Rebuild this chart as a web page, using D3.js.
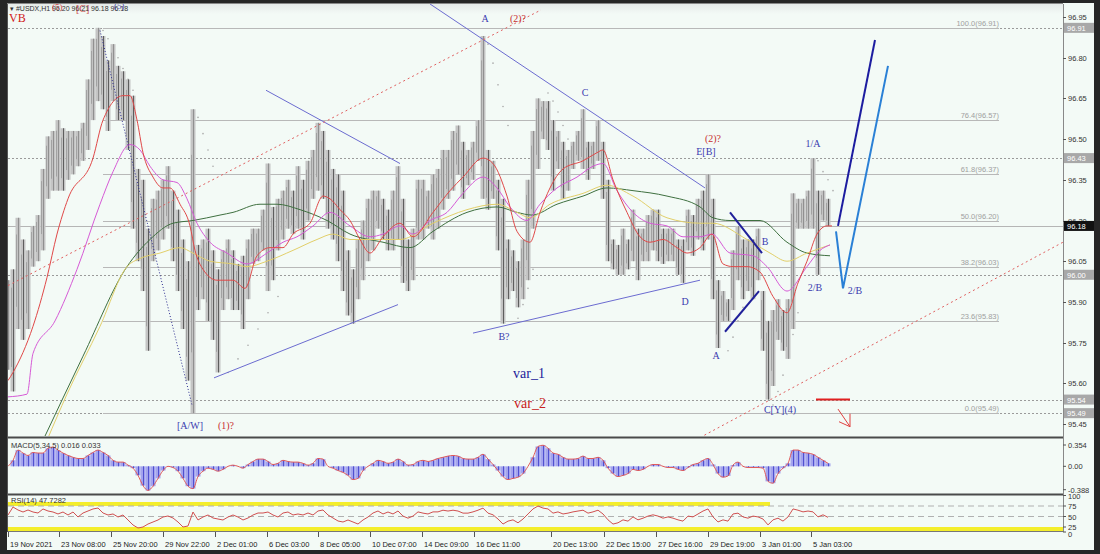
<!DOCTYPE html>
<html><head><meta charset="utf-8">
<script src="https://cdn.jsdelivr.net/npm/d3@7"></script>
<style>html,body{margin:0;padding:0;background:#222;}svg{display:block}</style>
</head><body><svg id="c" width="1100" height="554"></svg>
<script>
// ---------- DATA ----------
const priceHigh = [95.98,96.02,96.21,96.13,96.09,96.18,96.22,96.39,96.51,96.53,96.57,96.54,96.53,96.53,96.53,96.56,96.72,96.87,96.91,96.88,
96.79,96.85,96.77,96.75,96.72,96.66,96.39,96.35,96.17,96.28,96.31,96.35,96.40,96.31,96.24,96.13,96.05,96.61,96.11,96.13,
96.17,96.09,96.02,96.09,96.13,96.09,96.04,96.07,96.13,96.17,96.17,96.24,96.41,96.25,96.28,96.31,96.35,96.31,96.40,96.35,
96.42,96.46,96.56,96.53,96.46,96.39,96.37,96.31,96.09,96.02,96.13,96.20,96.28,96.31,96.31,96.28,96.24,96.31,96.40,96.28,
96.13,96.17,96.35,96.35,96.31,96.37,96.39,96.46,96.46,96.53,96.55,96.49,96.46,96.49,96.57,96.88,96.46,96.42,96.35,96.28,
96.13,96.09,96.05,96.13,96.35,96.53,96.65,96.64,96.64,96.57,96.53,96.49,96.46,96.49,96.53,96.61,96.49,96.49,96.57,96.49,
96.35,96.13,96.11,96.17,96.13,96.24,96.17,96.17,96.22,96.24,96.24,96.17,96.17,96.17,96.13,96.13,96.24,96.22,96.28,96.31,
96.37,96.28,95.98,95.94,95.91,96.09,96.18,96.13,96.13,96.13,96.17,95.94,95.83,95.87,95.91,95.87,95.91,96.30,96.28,96.28,
96.31,96.43,96.31,96.31,96.28];
const priceLow = [95.65,95.57,95.80,95.76,95.80,96.03,96.05,96.09,96.28,96.31,96.31,96.31,96.35,96.37,96.40,96.42,96.46,96.57,96.64,96.61,
96.53,96.64,96.57,96.57,96.46,96.17,96.05,95.94,95.72,96.05,96.09,96.13,96.17,96.05,95.94,95.80,95.61,95.49,95.87,95.91,
95.83,95.76,95.64,95.87,95.91,95.87,95.87,95.80,95.91,96.04,96.05,96.09,95.94,95.98,96.09,96.13,96.17,96.15,96.17,96.13,
96.20,96.28,96.31,96.28,96.17,96.13,96.05,95.94,95.85,95.82,95.91,95.98,96.05,96.09,96.17,96.13,96.09,96.09,96.13,95.97,
95.94,95.98,96.13,96.13,96.17,96.13,96.17,96.24,96.28,96.31,96.37,96.28,96.33,96.35,96.42,96.28,96.24,96.28,96.09,95.82,
95.91,95.94,95.88,95.91,95.98,96.17,96.39,96.50,96.46,96.31,96.39,96.28,96.31,96.39,96.42,96.39,96.35,96.39,96.42,96.28,
96.05,96.02,96.00,96.00,96.02,96.05,95.98,96.05,96.05,96.09,96.05,96.04,96.05,96.05,96.00,95.97,96.09,96.07,96.13,96.09,
96.13,95.91,95.73,95.83,95.83,95.87,95.98,95.91,95.94,95.91,95.98,95.72,95.54,95.59,95.76,95.72,95.69,95.80,96.17,96.17,
96.17,96.17,96.00,96.20,96.18];

// moving averages: [bar index, value]
const maRed = [[0,95.61],[1,95.64],[5,95.81],[7.8,95.99],[9.8,96.15],[12,96.28],[17,96.43],[19,96.57],[23,96.66],[24.4,96.66],[25.8,96.57],[27,96.45],[29,96.36],[31,96.32],[32.4,96.32],[34.4,96.26],[36.4,96.18],[37.4,96.09],[39,96.02],[41.8,95.98],[45,95.98],[47.4,95.95],[49.8,96.07],[52.4,96.10],[55,96.10],[57,96.15],[60.4,96.19],[63,96.29],[64.4,96.28],[66.4,96.24],[68.4,96.20],[70.4,96.13],[72.4,96.08],[75,96.14],[78.4,96.19],[81,96.14],[85,96.23],[88.4,96.31],[91,96.36],[95,96.43],[97,96.41],[99.8,96.29],[101.8,96.16],[104.4,96.12],[106.4,96.23],[108.4,96.32],[111,96.39],[115,96.42],[117.8,96.45],[119,96.46],[121,96.35],[123.8,96.23],[126.4,96.14],[128.4,96.12],[131,96.13],[133.8,96.10],[135.8,96.08],[138.4,96.10],[140.8,96.15],[143,96.04],[145,96.03],[147.8,96.03],[150.4,96.01],[153,95.92],[155.8,95.86],[158,95.97],[159.8,96.05],[161.8,96.15],[163.8,96.18],[164.8,96.18]];
const maViolet = [[0,95.55],[3.8,95.56],[5,95.71],[9.4,95.83],[13.8,96.02],[18.4,96.26],[21,96.38],[24.4,96.48],[26.4,96.46],[28.4,96.40],[31,96.35],[33.8,96.34],[35.8,96.28],[37.8,96.19],[40.4,96.12],[43.8,96.08],[47.8,96.04],[51.8,96.08],[55,96.12],[57.8,96.14],[61,96.18],[64.4,96.23],[68.4,96.18],[72.4,96.14],[75,96.15],[78.4,96.18],[81,96.15],[84.4,96.20],[87.8,96.23],[91,96.30],[95,96.36],[97.8,96.32],[100.4,96.25],[103.8,96.20],[106.4,96.26],[109.8,96.32],[113.8,96.36],[117,96.40],[119,96.41],[121.8,96.31],[125,96.23],[128.4,96.19],[131.8,96.18],[135,96.14],[138.4,96.14],[140.8,96.15],[144.4,96.08],[149,96.07],[151.8,96.03],[155.8,95.94],[159.8,96.03],[162.4,96.09],[164.4,96.11]];
const maYellow = [[7.8,95.39],[11.8,95.56],[18.4,95.81],[23.8,96.03],[26.4,96.06],[30.4,96.08],[34.4,96.10],[37,96.08],[40.4,96.05],[45,96.04],[47.8,96.03],[51.8,96.05],[57,96.09],[61.8,96.13],[65,96.15],[68.4,96.13],[72.4,96.13],[78.4,96.13],[85,96.19],[91.8,96.24],[97.8,96.26],[101.8,96.23],[104.4,96.21],[108.4,96.26],[115,96.30],[119.8,96.33],[125,96.29],[131.8,96.21],[138.4,96.19],[141,96.19],[147.8,96.13],[152.4,96.08],[155.8,96.05],[159.8,96.08],[164.4,96.11]];
const maGreen = [[7,95.39],[15,95.70],[23.8,96.03],[28.4,96.13],[33,96.19],[37,96.20],[42.4,96.22],[45,96.23],[50.4,96.26],[53.8,96.26],[58.4,96.24],[63.8,96.20],[68.4,96.15],[75,96.12],[80.4,96.10],[85,96.16],[91.8,96.23],[97.8,96.25],[101.8,96.23],[104.8,96.22],[109.8,96.26],[115,96.29],[119.8,96.32],[125,96.31],[131.8,96.29],[138.4,96.25],[141,96.21],[144.4,96.20],[150.4,96.20],[155.8,96.12],[159.8,96.08],[164.4,96.07]];

// parabolic SAR dot runs: [bar index, value]
const sarRuns = [
 [[19,96.90],[20,96.87],[21,96.84],[22,96.80],[23,96.76],[24,96.72],[25,96.68]],
 [[38,96.58],[39,96.52],[40,96.46],[41,96.40]],
 [[44,95.64],[46,95.69],[48,95.74],[50,95.80],[52,95.86],[54,95.92]],
 [[96,96.85],[97,96.78],[98,96.70],[99,96.62],[100,96.55]],
 [[102,95.84],[103,95.89],[104,95.95],[105,96.02]],
 [[108,96.67],[109,96.64],[110,96.60],[111,96.55],[112,96.50]],
 [[144,95.72],[145,95.77],[146,95.83],[147,95.88]],
 [[153,95.52],[154,95.57],[155,95.63],[156,95.70],[157,95.78],[158,95.86]],
 [[162,96.42],[163,96.38],[164,96.35],[165,96.31]]
];

const macdValues = [0,0.10,0.27,0.22,0.18,0.23,0.22,0.22,0.30,0.32,0.27,0.22,0.18,0.15,0.13,0.13,0.18,0.23,0.27,0.23,
0.18,0.10,0.07,0.07,0.02,-0.03,-0.15,-0.32,-0.40,-0.33,-0.20,-0.07,0,-0.02,-0.08,-0.20,-0.33,-0.37,-0.17,-0.08,
-0.03,-0.05,-0.08,-0.05,0,0.02,0,-0.03,0.03,0.08,0.12,0.12,0.08,0.03,0.05,0.10,0.08,0.07,0.07,0.05,
0.02,0.05,0.13,0.12,0,-0.03,-0.07,-0.10,-0.15,-0.22,-0.20,-0.07,0,0.05,0.10,0.08,0.05,0.07,0.12,0.08,
0.02,0.03,0.08,0.10,0.08,0.10,0.13,0.15,0.17,0.18,0.17,0.13,0.12,0.12,0.15,0.20,0.12,0.03,-0.07,-0.17,
-0.22,-0.20,-0.18,-0.12,0,0.15,0.33,0.35,0.30,0.22,0.20,0.15,0.12,0.12,0.13,0.17,0.13,0.13,0.15,0.10,
-0.03,-0.12,-0.17,-0.15,-0.12,-0.05,-0.07,-0.05,0,0.03,0.03,0,-0.02,-0.02,-0.05,-0.07,-0.02,0.03,0.05,0.10,
0.13,0.03,-0.12,-0.18,-0.16,0.02,0.07,0,-0.02,-0.02,-0.02,-0.03,-0.25,-0.28,-0.12,-0.03,0.05,0.27,0.27,0.23,
0.22,0.20,0.15,0.10,0.05];

const rsiValues = [53.6,72.6,65.5,60.7,65.5,60.7,58.3,67.9,63.1,60.7,56,60.7,53.6,60.7,48.8,58.3,63.1,67.9,70.2,58.3,
53.6,56,48.8,53.6,41.7,29.8,22.6,25,32.1,36.9,41.7,48.8,51.2,46.4,36.9,25,27.4,60.7,41.7,48.8,
53.6,46.4,44,41.7,48.8,53.6,48.8,41.7,46.4,53.6,58.3,58.3,60.7,53.6,48.8,58.3,60.7,53.6,56,53.6,
58.3,53.6,63.1,65.5,53.6,46.4,39.3,36.9,41.7,36.9,32.1,41.7,48.8,58.3,63.1,56,60.7,56,63.1,51,
46,51,61,58,56,61,61,65,63,65,63,58,58,61,65,70,58,54,44,32,
39,42,35,44,56,68,75,70,68,58,61,56,58,61,63,65,58,61,65,56,
42,32,35,42,39,49,42,46,51,54,51,46,49,46,42,39,51,49,56,63,
68,49,37,42,39,56,58,49,46,51,49,44,30,42,46,39,49,68,65,61,
63,61,49,54,48];

const yTickValues = [96.95,96.80,96.65,96.50,96.35,96.20,96.05,95.90,95.75,95.60,95.45];
const levelLines = [96.91,96.43,96.00,95.54,95.49];
const lastPrice = 96.18;
const fibLevels = [[100.0,96.91],[76.4,96.57],[61.8,96.37],[50.0,96.20],[38.2,96.03],[23.6,95.83],[0.0,95.49]];
const xTickLabels = ["19 Nov 2021","23 Nov 08:00","25 Nov 20:00","29 Nov 22:00","2 Dec 01:00","6 Dec 03:00","8 Dec 05:00","10 Dec 07:00","14 Dec 09:00","16 Dec 11:00","20 Dec 13:00","22 Dec 15:00","27 Dec 16:00","29 Dec 19:00","3 Jan 01:00","5 Jan 03:00"];
const xTickIdx = [0,10.2,20.6,31,41.4,51.8,62,72.4,82.8,93.2,108.6,119.2,129.6,140,150.4,160.6];
const macdTicks = [0.354,0,-0.388];
const macdTickLabels = ["0.354","0.00","-0.388"];
const rsiTicks = [100,75,50,25,0];

// trend lines: [[idx,val],[idx,val]]
const trendThin = [[[51.6,96.68],[78.4,96.41]],[[41.2,95.62],[78,95.89]],[[84.4,96.998],[139.4,96.32]],[[93,95.785],[138.4,95.98]]];
const trendBold = [[[144.4,96.23],[150.8,96.08]],[[143.4,95.79],[150.2,95.94]]];
const navyDotted = [[18.4,96.90],[36.8,95.52]];
const redDotted = [[[0,95.96],[106.6,96.976]],[[138.4,95.40],[211,96.12]]];
const projNavy = [[166,96.18],[173.4,96.865]];
const projBlue = [[165.6,96.16],[167,95.95],[176,96.77]];
const redStop = [[161.6,95.54],[168.4,95.54]];
const redArrow = [[166,95.505],[168.4,95.44]];

const labelsBlue = [["A",95.4,96.93],["C",115.4,96.66],["E[B]",139.6,96.44],["1/A",161,96.47],["B",151.4,96.11],["D",135.4,95.89],["2/B",161.4,95.94],["2/B",169.4,95.93],["A",141.6,95.69],["B?",99.2,95.76],["C[Y](4)",154.4,95.49],["[A/W]",36.4,95.43]];
const labelsRed = [["(2)?",102,96.93],["(2)?",141,96.49],["(1)?",43.6,95.43]];

// ---------- DRAW ----------
const svg = d3.select('#c');
const L = 8, R = 1063;
const x = d3.scaleLinear().domain([0,211]).range([L,R]);
const y = d3.scaleLinear().domain([95.45,96.95]).range([424,17]);
const yM = d3.scaleLinear().domain([-0.388,0.354]).range([489.7,445]);
const yR = d3.scaleLinear().domain([0,100]).range([537.5,495.5]);
const bg = '#f3faf6';
const axisFont = 'Liberation Sans, Arial, sans-serif';
const serif = 'Liberation Serif, Times New Roman, serif';

svg.append('rect').attr('width',1100).attr('height',554).attr('fill','#262626');
svg.append('rect').attr('x',7).attr('y',3).attr('width',1087).attr('height',547).attr('fill',bg);
const defs = svg.append('defs');
const gr = defs.append('linearGradient').attr('id','hg').attr('x1',0).attr('x2',0).attr('y1',0).attr('y2',1);
gr.append('stop').attr('offset','0').attr('stop-color','#e6ebe9');
gr.append('stop').attr('offset','1').attr('stop-color',bg);
svg.append('rect').attr('x',8).attr('y',4).attr('width',R-L).attr('height',10).attr('fill','url(#hg)');

defs.append('clipPath').attr('id','cm').append('rect').attr('x',L).attr('y',4).attr('width',R-L).attr('height',432);
defs.append('clipPath').attr('id','cmacd').append('rect').attr('x',L).attr('y',439).attr('width',R-L).attr('height',54);
defs.append('clipPath').attr('id','crsi').append('rect').attr('x',L).attr('y',497).attr('width',R-L).attr('height',34);

const frame = svg.append('g');
frame.append('line').attr('x1',7).attr('x2',R).attr('y1',437.5).attr('y2',437.5).attr('stroke','#4a4a4a').attr('stroke-width',2);
frame.append('line').attr('x1',7).attr('x2',R).attr('y1',494.5).attr('y2',494.5).attr('stroke','#4a4a4a').attr('stroke-width',2);
frame.append('line').attr('x1',7).attr('x2',R).attr('y1',531.5).attr('y2',531.5).attr('stroke','#777').attr('stroke-width',1);
frame.append('line').attr('x1',R+0.5).attr('x2',R+0.5).attr('y1',4).attr('y2',532).attr('stroke','#888');
frame.append('line').attr('x1',7.5).attr('x2',7.5).attr('y1',3).attr('y2',532).attr('stroke','#555');
frame.append('line').attr('x1',7).attr('x2',R).attr('y1',3.5).attr('y2',3.5).attr('stroke','#888');

const gm = svg.append('g').attr('clip-path','url(#cm)');

gm.selectAll('line.lvl').data(levelLines).join('line')
  .attr('x1',L).attr('x2',R).attr('y1',d=>Math.round(y(d))+0.5).attr('y2',d=>Math.round(y(d))+0.5)
  .attr('stroke','#9a9a9a').attr('stroke-dasharray','2,2').attr('stroke-width',1);
const fibStart = 19, fibEnd = 198.2;
gm.selectAll('line.fib').data(fibLevels).join('line')
  .attr('x1',x(fibStart)).attr('x2',x(fibEnd)).attr('y1',d=>Math.round(y(d[1]))+0.5).attr('y2',d=>Math.round(y(d[1]))+0.5)
  .attr('stroke','#b8b8b8').attr('stroke-width',1);
gm.selectAll('text.fib').data(fibLevels).join('text')
  .attr('x',x(fibEnd)).attr('y',d=>Math.round(y(d[1]))-2).attr('text-anchor','end')
  .attr('font-family',axisFont).attr('font-size',7.5).attr('fill','#a0a0a0')
  .text(d=>d[0].toFixed(1)+'('+d[1].toFixed(2)+')');
gm.append('line').attr('x1',L).attr('x2',R).attr('y1',Math.round(y(lastPrice))+0.5).attr('y2',Math.round(y(lastPrice))+0.5)
  .attr('stroke','#b5b5b5').attr('stroke-width',1);

// SAR dots
sarRuns.forEach(run=>{
  gm.selectAll(null).data(run).join('circle').attr('cx',d=>x(d[0])).attr('cy',d=>y(d[1])).attr('r',0.8).attr('fill','#a8a8a8');
});

// price bars
const mids = priceHigh.map((h,i)=>(h+priceLow[i])/2);
gm.selectAll('rect.bar').data(priceHigh).join('rect')
  .attr('x',(d,i)=>x(i)-2.5).attr('width',5)
  .attr('y',d=>y(d)).attr('height',(d,i)=>Math.max(1,y(priceLow[i])-y(d)))
  .attr('fill','#c4c4c4');
gm.selectAll('line.bar2').data(priceHigh).join('line')
  .attr('x1',(d,i)=>x(i)-1.5).attr('x2',(d,i)=>x(i)-1.5)
  .attr('y1',(d,i)=>y(d)+ (y(priceLow[i])-y(d))*0.15).attr('y2',(d,i)=>y(priceLow[i]) - (y(priceLow[i])-y(d))*0.2)
  .attr('stroke','#a2a2a2').attr('stroke-width',1);
gm.selectAll('line.bar').data(priceHigh).join('line')
  .attr('x1',(d,i)=>x(i)+0.5).attr('x2',(d,i)=>x(i)+0.5)
  .attr('y1',d=>y(d)).attr('y2',(d,i)=>y(priceLow[i]))
  .attr('stroke',(d,i)=> i>0 && mids[i]<mids[i-1] ? '#5e5e5e' : '#909090').attr('stroke-width',1);

const ln = d3.line().x(d=>x(d[0])).y(d=>y(d[1])).curve(d3.curveMonotoneX);
[[maGreen,'#3f7040'],[maYellow,'#e2cf6a'],[maViolet,'#d65ad6'],[maRed,'#e04848']].forEach(([data,c])=>{
  gm.append('path').attr('d',ln(data)).attr('fill','none').attr('stroke',c).attr('stroke-width',1);
});

const seg = d3.line().x(d=>x(d[0])).y(d=>y(d[1]));
trendThin.forEach(t=>gm.append('path').attr('d',seg(t)).attr('stroke','#6b6bd0').attr('stroke-width',1).attr('fill','none'));
trendBold.forEach(t=>gm.append('path').attr('d',seg(t)).attr('stroke','#20209a').attr('stroke-width',2).attr('fill','none'));
gm.append('path').attr('d',seg(navyDotted)).attr('stroke','#2b2b90').attr('stroke-dasharray','1,2').attr('fill','none');
redDotted.forEach(t=>gm.append('path').attr('d',seg(t)).attr('stroke','#e06060').attr('stroke-dasharray','2,3').attr('fill','none'));
gm.append('path').attr('d',seg(projNavy)).attr('stroke','#1c1ca0').attr('stroke-width',2).attr('fill','none');
gm.append('path').attr('d',seg(projBlue)).attr('stroke','#2a80d6').attr('stroke-width',2).attr('fill','none');
gm.append('path').attr('d',seg(redStop)).attr('stroke','#e02020').attr('stroke-width',2).attr('fill','none');
const a0 = [x(redArrow[0][0]),y(redArrow[0][1])], a1=[x(redArrow[1][0]),y(redArrow[1][1])];
gm.append('path').attr('d',`M${a0[0]},${a0[1]}L${a1[0]},${a1[1]}M${a1[0]},${a1[1]}L${a1[0]},${a1[1]-13}M${a1[0]},${a1[1]}L${a1[0]-11},${a1[1]-5}`)
  .attr('stroke','#e04040').attr('stroke-width',1).attr('fill','none');

gm.selectAll('text.lb').data(labelsBlue).join('text')
  .attr('x',d=>x(d[1])).attr('y',d=>y(d[2])).attr('text-anchor','middle')
  .attr('font-family',serif).attr('font-size',10).attr('fill','#3a3ab0').text(d=>d[0]);
gm.selectAll('text.lr').data(labelsRed).join('text')
  .attr('x',d=>x(d[1])).attr('y',d=>y(d[2])).attr('text-anchor','middle')
  .attr('font-family',serif).attr('font-size',10).attr('fill','#c83030').text(d=>d[0]);
gm.append('text').attr('x',x(104.2)).attr('y',y(95.62)).attr('text-anchor','middle').attr('font-family',serif).attr('font-size',14).attr('fill','#22229a').text('var_1');
gm.append('text').attr('x',x(104.4)).attr('y',y(95.51)).attr('text-anchor','middle').attr('font-family',serif).attr('font-size',14).attr('fill','#c82020').text('var_2');

// header
gm.append('text').attr('x',10).attr('y',11).attr('font-family',axisFont).attr('font-size',7).attr('fill','#333')
  .text('\u25BE #USDX,H1  96.20 96.21 96.18 96.18');
gm.append('text').attr('x',52).attr('y',10).attr('font-family',serif).attr('font-size',9).attr('fill','#c83030').attr('opacity',0.85).text('(5)');
gm.append('text').attr('x',76).attr('y',12).attr('font-family',serif).attr('font-size',10).attr('fill','#c83030').attr('opacity',0.85).text('[C]');
gm.append('text').attr('x',114).attr('y',9).attr('font-family',serif).attr('font-size',9).attr('fill','#2a2aa0').attr('opacity',0.85).text('(5)');
gm.append('text').attr('x',9).attr('y',22).attr('font-family',serif).attr('font-size',12).attr('fill','#d02020').text('VB');

// right axis main
const ax = svg.append('g');
ax.selectAll('line.t').data(yTickValues).join('line')
  .attr('x1',R).attr('x2',R+3).attr('y1',d=>Math.round(y(d))+0.5).attr('y2',d=>Math.round(y(d))+0.5).attr('stroke','#555');
ax.selectAll('text.t').data(yTickValues).join('text')
  .attr('x',R+5).attr('y',d=>y(d)+3).attr('font-family',axisFont).attr('font-size',7.5).attr('fill','#333')
  .text(d=>d.toFixed(2));
const boxes = ax.selectAll('g.box').data(levelLines.map(v=>[v,'#a8a8a8']).concat([[lastPrice,'#111']])).join('g');
boxes.append('rect').attr('x',R+1).attr('y',d=>y(d[0])-5).attr('width',30).attr('height',10).attr('fill',d=>d[1]);
boxes.append('text').attr('x',R+4).attr('y',d=>y(d[0])+3).attr('font-family',axisFont).attr('font-size',7.5).attr('fill','#fff').text(d=>d[0].toFixed(2));

// MACD
const gmacd = svg.append('g').attr('clip-path','url(#cmacd)');
gmacd.selectAll('rect').data(macdValues).join('rect')
  .attr('x',(d,i)=>x(i)-2.5).attr('width',5)
  .attr('y',d=>Math.min(yM(d),yM(0))).attr('height',d=>Math.abs(yM(d)-yM(0)))
  .attr('fill','#a4a4ee');
gmacd.selectAll('line.h').data(macdValues).join('line')
  .attr('x1',(d,i)=>x(i)+0.5).attr('x2',(d,i)=>x(i)+0.5).attr('y1',yM(0)).attr('y2',d=>yM(d))
  .attr('stroke','#5050d0').attr('stroke-width',1);
gmacd.append('path').attr('d',d3.line().x((d,i)=>x(i)).y(d=>yM(d)).curve(d3.curveMonotoneX)(macdValues))
  .attr('fill','none').attr('stroke','#e05a5a').attr('stroke-width',1);
svg.append('text').attr('x',11).attr('y',448).attr('font-family',axisFont).attr('font-size',7.5).attr('fill','#333').text('MACD(5,34,5) 0.016 0.033');
svg.selectAll('line.mt').data(macdTicks).join('line').attr('x1',R).attr('x2',R+3).attr('y1',d=>yM(d)).attr('y2',d=>yM(d)).attr('stroke','#555');
svg.selectAll('text.mt').data(macdTicks).join('text').attr('x',R+5).attr('y',d=>yM(d)+3)
  .attr('font-family',axisFont).attr('font-size',7.5).attr('fill','#333').text((d,i)=>macdTickLabels[i]);

// RSI
const grsi = svg.append('g').attr('clip-path','url(#crsi)');
grsi.append('line').attr('x1',L).attr('x2',x(152.4)).attr('y1',yR(80)).attr('y2',yR(80)).attr('stroke','#f4ee2a').attr('stroke-width',4);
grsi.append('line').attr('x1',L).attr('x2',R).attr('y1',yR(20)).attr('y2',yR(20)).attr('stroke','#f4ee2a').attr('stroke-width',4);
[75,50].forEach(v=>grsi.append('line').attr('x1',L).attr('x2',R).attr('y1',yR(v)).attr('y2',yR(v))
  .attr('stroke','#b0b0b0').attr('stroke-dasharray','6,4'));
grsi.append('path').attr('d',d3.line().x((d,i)=>x(i)).y(d=>yR(d))(rsiValues))
  .attr('fill','none').attr('stroke','#d05050').attr('stroke-width',1);
svg.append('text').attr('x',11).attr('y',503).attr('font-family',axisFont).attr('font-size',7.5).attr('fill','#333').text('RSI(14) 47.7282');
svg.selectAll('line.rt').data(rsiTicks).join('line').attr('x1',R).attr('x2',R+3).attr('y1',d=>Math.min(yR(d),532)).attr('y2',d=>Math.min(yR(d),532)).attr('stroke','#555');
svg.selectAll('text.rt').data(rsiTicks).join('text').attr('x',R+5).attr('y',d=>Math.min(yR(d),534)+3)
  .attr('font-family',axisFont).attr('font-size',7.5).attr('fill','#333').text(d=>d);

// x axis
svg.selectAll('line.xt').data(xTickIdx).join('line').attr('x1',d=>Math.round(x(d))+0.5).attr('x2',d=>Math.round(x(d))+0.5)
  .attr('y1',532).attr('y2',537).attr('stroke','#555');
svg.selectAll('text.xt').data(xTickLabels).join('text').attr('x',(d,i)=>x(xTickIdx[i])+2).attr('y',547)
  .attr('font-family',axisFont).attr('font-size',7.5).attr('fill','#222').text(d=>d);
</script></body></html>
